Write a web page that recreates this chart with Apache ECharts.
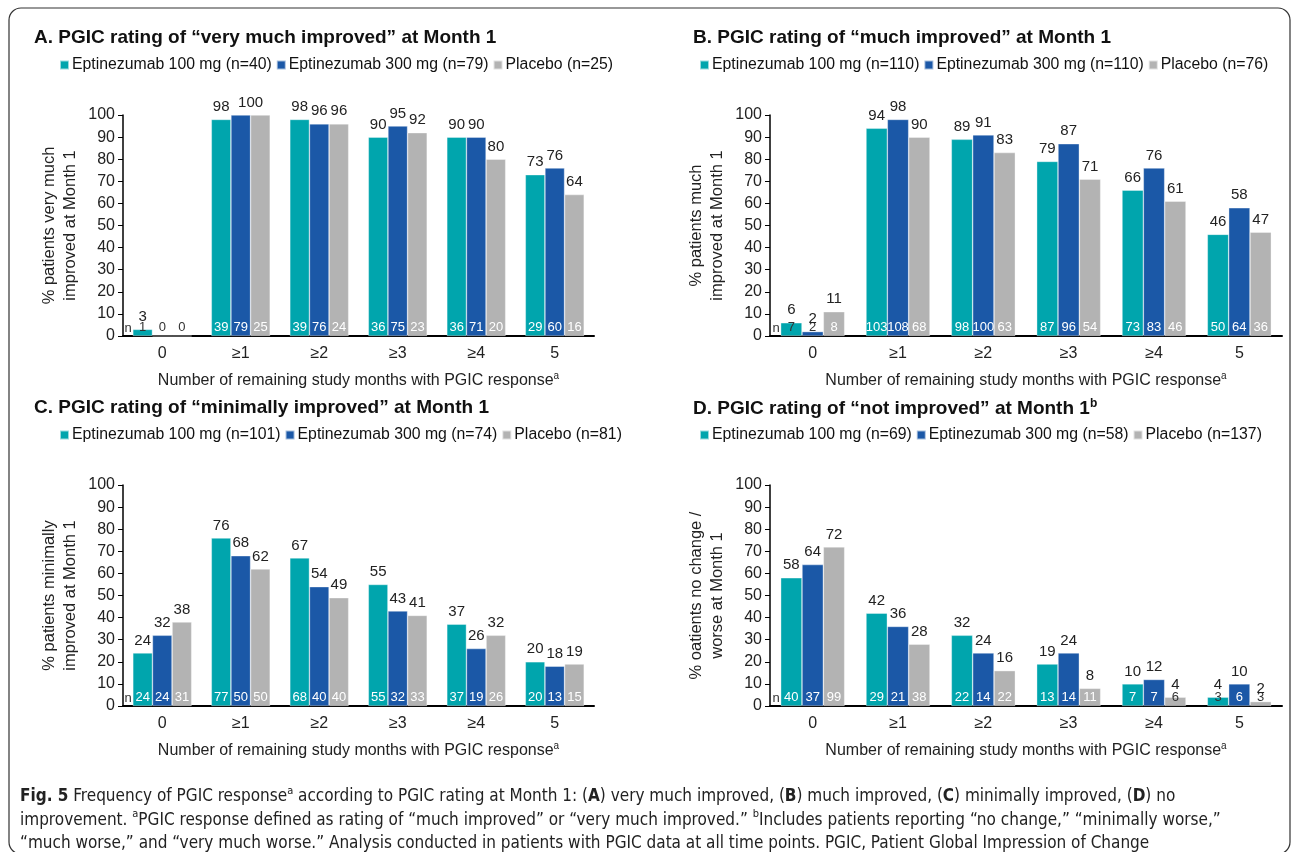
<!DOCTYPE html>
<html>
<head>
<meta charset="utf-8">
<script src="https://cdn.jsdelivr.net/npm/echarts@6/dist/echarts.min.js"></script>
<style>
html,body{margin:0;padding:0;background:#fff;}
#chart{width:1292px;height:852px;}
</style>
</head>
<body>
<div id="chart"></div>
<script>
// ---------- DATA ----------
const categories = ['0', '≥1', '≥2', '≥3', '≥4', '5'];
const yTicks = [0, 10, 20, 30, 40, 50, 60, 70, 80, 90, 100];

const titleA = 'A. PGIC rating of “very much improved” at Month 1';
const titleB = 'B. PGIC rating of “much improved” at Month 1';
const titleC = 'C. PGIC rating of “minimally improved” at Month 1';
const titleD = 'D. PGIC rating of “not improved” at Month 1';

const legendA = ['Eptinezumab 100 mg (n=40)', 'Eptinezumab 300 mg (n=79)', 'Placebo (n=25)'];
const legendB = ['Eptinezumab 100 mg (n=110)', 'Eptinezumab 300 mg (n=110)', 'Placebo (n=76)'];
const legendC = ['Eptinezumab 100 mg (n=101)', 'Eptinezumab 300 mg (n=74)', 'Placebo (n=81)'];
const legendD = ['Eptinezumab 100 mg (n=69)', 'Eptinezumab 300 mg (n=58)', 'Placebo (n=137)'];

const yNameA = '% patients very much\nimproved at Month 1';
const yNameB = '% patients much\nimproved at Month 1';
const yNameC = '% patients minimally\nimproved at Month 1';
const yNameD = '% oatients no change /\nworse at Month 1';

// Panel A: percentages and n
const pctA100 = [3, 98, 98, 90, 90, 73];
const pctA300 = [0, 100, 96, 95, 90, 76];
const pctAPlb = [0, 100, 96, 92, 80, 64];
const nA100 = [1, 39, 39, 36, 36, 29];
const nA300 = [0, 79, 76, 75, 71, 60];
const nAPlb = [0, 25, 24, 23, 20, 16];

// Panel B
const pctB100 = [6, 94, 89, 79, 66, 46];
const pctB300 = [2, 98, 91, 87, 76, 58];
const pctBPlb = [11, 90, 83, 71, 61, 47];
const nB100 = [7, 103, 98, 87, 73, 50];
const nB300 = [2, 108, 100, 96, 83, 64];
const nBPlb = [8, 68, 63, 54, 46, 36];

// Panel C
const pctC100 = [24, 76, 67, 55, 37, 20];
const pctC300 = [32, 68, 54, 43, 26, 18];
const pctCPlb = [38, 62, 49, 41, 32, 19];
const nC100 = [24, 77, 68, 55, 37, 20];
const nC300 = [24, 50, 40, 32, 19, 13];
const nCPlb = [31, 50, 40, 33, 26, 15];

// Panel D
const pctD100 = [58, 42, 32, 19, 10, 4];
const pctD300 = [64, 36, 24, 24, 12, 10];
const pctDPlb = [72, 28, 16, 8, 4, 2];
const nD100 = [40, 29, 22, 13, 7, 3];
const nD300 = [37, 21, 14, 14, 7, 6];
const nDPlb = [99, 38, 22, 11, 6, 3];

const xName = 'Number of remaining study months with PGIC response';

// In panel A, category "≥1", the two 100% bars share one value label
const sharedLabels = [{panel: 0, index: 1, groups: [1, 2]}];

// ---------- STYLE ----------
const colors = ['#00A5AD', '#1B58A7', '#B3B3B3'];
const FONT = '"Liberation Sans", Arial, sans-serif';
const CAPFONT = '"Liberation Sans Narrow", "DejaVu Sans Condensed", sans-serif';

const panels = [
  {title: titleA, legend: legendA, yName: yNameA, pct: [pctA100, pctA300, pctAPlb], n: [nA100, nA300, nAPlb]},
  {title: titleB, legend: legendB, yName: yNameB, pct: [pctB100, pctB300, pctBPlb], n: [nB100, nB300, nBPlb]},
  {title: titleC, legend: legendC, yName: yNameC, pct: [pctC100, pctC300, pctCPlb], n: [nC100, nC300, nCPlb]},
  {title: titleD, legend: legendD, yName: yNameD, pct: [pctD100, pctD300, pctDPlb], n: [nD100, nD300, nDPlb], sup: 'b'}
];

const layout = [
  {grid: {left: 123, top: 115, width: 471, height: 221}, titleX: 29, titleY: 23, legX: 54, legY: 52},
  {grid: {left: 770, top: 115, width: 512, height: 221}, titleX: 688, titleY: 23, legX: 694, legY: 52},
  {grid: {left: 123, top: 485, width: 471, height: 221}, titleX: 29, titleY: 393, legX: 54, legY: 422},
  {grid: {left: 770, top: 485, width: 512, height: 221}, titleX: 688, titleY: 393, legX: 694, legY: 422}
];

const grid = [], xAxis = [], yAxis = [], series = [], legend = [], title = [];

panels.forEach((p, pi) => {
  const L = layout[pi];
  const barW = L.grid.width / categories.length * 0.25;
  grid.push(L.grid);
  title.push({
    text: p.sup ? '{t|' + p.title + '}{s|' + p.sup + '}' : p.title,
    left: L.titleX, top: L.titleY,
    textStyle: {
      fontFamily: FONT, fontSize: 19, fontWeight: 'bold', color: '#111',
      rich: {
        t: {fontFamily: FONT, fontSize: 19, fontWeight: 'bold', color: '#111', lineHeight: 22},
        s: {fontFamily: FONT, fontSize: 12, fontWeight: 'bold', color: '#111', verticalAlign: 'top', lineHeight: 22}
      }
    }
  });
  legend.push({
    data: p.legend, left: L.legX, top: L.legY, icon: 'rect',
    itemWidth: 9, itemHeight: 9, itemGap: 4,
    textStyle: {fontFamily: FONT, fontSize: 15.8, color: '#111', padding: [0, 0, 0, -2]},
    selectedMode: false
  });
  xAxis.push({
    type: 'category', gridIndex: pi, data: categories,
    axisLine: {lineStyle: {color: '#000', width: 2}},
    axisTick: {show: false},
    axisLabel: {fontFamily: FONT, fontSize: 16, color: '#222', margin: 10},
    name: '{a|' + xName + '}{s|a}', nameLocation: 'middle', nameGap: 35,
    nameTextStyle: {
      fontFamily: FONT, fontSize: 16, color: '#222',
      rich: {
        a: {fontFamily: FONT, fontSize: 16, color: '#222', lineHeight: 20},
        s: {fontFamily: FONT, fontSize: 10, color: '#222', verticalAlign: 'top', lineHeight: 20}
      }
    }
  });
  yAxis.push({
    type: 'value', gridIndex: pi, min: yTicks[0], max: yTicks[yTicks.length - 1], interval: yTicks[1] - yTicks[0],
    axisLine: {show: true, lineStyle: {color: '#000', width: 1.5}},
    axisTick: {show: true, length: 5, lineStyle: {color: '#000'}},
    splitLine: {show: false},
    axisLabel: {fontFamily: FONT, fontSize: 16, color: '#222', margin: 8},
    name: p.yName, nameLocation: 'middle', nameGap: 42, nameRotate: 90,
    nameTextStyle: {fontFamily: FONT, fontSize: 16.5, color: '#222', lineHeight: 21}
  });
  for (let g = 0; g < 3; g++) {
    const vals = p.pct[g], ns = p.n[g];
    series.push({
      type: 'bar', name: p.legend[g], xAxisIndex: pi, yAxisIndex: pi,
      stack: 'p' + pi + 'g' + g, barGap: '0%', barCategoryGap: '25%',
      itemStyle: {color: colors[g], borderColor: 'rgba(255,255,255,0.6)', borderWidth: 0.6},
      data: vals.map((v) => ({
        value: v,
        label: {color: v < 8 ? '#333' : '#fff'}
      })),
      label: {
        show: true, position: 'insideBottom', distance: 2,
        fontFamily: FONT, fontSize: 13,
        formatter: (prm) => String(ns[prm.dataIndex])
      },
      silent: true, animation: false
    });
    series.push({
      type: 'bar', name: p.legend[g], xAxisIndex: pi, yAxisIndex: pi,
      stack: 'p' + pi + 'g' + g, barGap: '0%', barCategoryGap: '25%',
      itemStyle: {color: colors[g]},
      data: vals.map((v, i) => {
        const sh = sharedLabels.find(s => s.panel === pi && s.index === i);
        const item = {value: 0};
        if (sh && sh.groups[0] === g) item.label = {show: false};
        if (sh && sh.groups[1] === g) item.label = {offset: [-barW / 2, 0]};
        return item;
      }),
      label: {
        show: true, position: 'top', distance: 5,
        fontFamily: FONT, fontSize: 15, color: '#222',
        formatter: (prm) => vals[prm.dataIndex] === 0 ? '' : String(vals[prm.dataIndex])
      },
      silent: true, animation: false
    });
  }
});

const chart = echarts.init(document.getElementById('chart'), null, {renderer: 'canvas'});
chart.setOption({
  backgroundColor: '#fff',
  animation: false,
  title, legend, grid, xAxis, yAxis, series
});

// annotation graphics: border, "n" markers, caption
const graphics = [{
  type: 'rect', shape: {x: 9, y: 8, width: 1281, height: 846, r: 12},
  style: {fill: 'none', stroke: '#333', lineWidth: 1.2}, silent: true
}];
panels.forEach((p, pi) => {
  const c = chart.convertToPixel({gridIndex: pi}, [0, 0]);
  const band = layout[pi].grid.width / categories.length;
  graphics.push({
    type: 'text', x: c[0] - band * 0.375 - 1, y: c[1] - 8,
    style: {text: 'n', fontFamily: FONT, fontSize: 13, fill: '#333', align: 'right', verticalAlign: 'middle'},
    silent: true
  });
});
const capRich = {
  b: {fontFamily: CAPFONT, fontSize: 17, fontWeight: 'bold', fill: '#222', lineHeight: 23},
  r: {fontFamily: CAPFONT, fontSize: 17, fill: '#222', lineHeight: 23},
  s: {fontFamily: CAPFONT, fontSize: 11, fill: '#222', verticalAlign: 'top', lineHeight: 23}
};
const capLines = [
  '{b|Fig. 5}{r| Frequency of PGIC response}{s|a}{r| according to PGIC rating at Month 1: (}{b|A}{r|) very much improved, (}{b|B}{r|) much improved, (}{b|C}{r|) minimally improved, (}{b|D}{r|) no}',
  '{r|improvement. }{s|a}{r|PGIC response defined as rating of “much improved” or “very much improved.” }{s|b}{r|Includes patients reporting “no change,” “minimally worse,”}',
  '{r|“much worse,” and “very much worse.” Analysis conducted in patients with PGIC data at all time points. PGIC, Patient Global Impression of Change}'
];
capLines.forEach((t, i) => {
  graphics.push({
    type: 'text', x: 20, y: 797 + i * 23.5,
    style: {text: t, rich: capRich, fontFamily: CAPFONT, fontSize: 17, fill: '#222', verticalAlign: 'middle'},
    silent: true
  });
});
chart.setOption({graphic: graphics});
</script>
</body>
</html>
